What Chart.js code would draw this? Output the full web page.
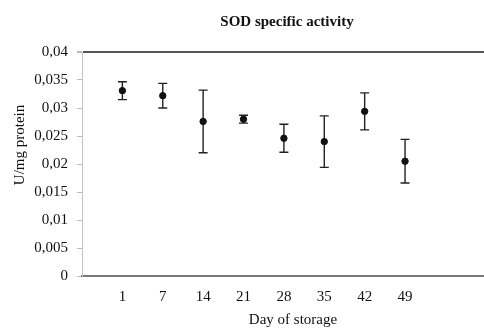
<!DOCTYPE html>
<html>
<head>
<meta charset="utf-8">
<script src="https://cdn.jsdelivr.net/npm/chart.js@4"></script>
<style>
    html, body { margin: 0; padding: 0; background: #fff; overflow: hidden; }
    #wrap { width: 490px; height: 328px; }
</style>
</head>
<body>
<div id="wrap"><canvas id="grafico-sod"></canvas></div>
<script>
// Datos
const dias = ['1', '7', '14', '21', '28', '35', '42', '49']; // Día de almacenamiento
const actividad = [0.0331, 0.0322, 0.0276, 0.0280, 0.0246, 0.0240, 0.0294, 0.0205]; // U/mg proteína
const errores = [0.0016, 0.0022, 0.0056, 0.0007, 0.0025, 0.0046, 0.0033, 0.0039]; // barras de error
const ticksY = [0, 0.005, 0.01, 0.015, 0.02, 0.025, 0.03, 0.035, 0.04];

const fuente = "'Liberation Serif', 'Times New Roman', serif";

// Formato con coma decimal
function conComa(v) {
    return parseFloat(v.toFixed(3)).toString().replace('.', ',');
}

// Dibuja las barras de error antes de los puntos
const barrasError = {
    id: 'barrasError',
    beforeDatasetsDraw(chart) {
        const ctx = chart.ctx;
        const x = chart.scales.x, y = chart.scales.y;
        ctx.save();
        ctx.strokeStyle = '#222';
        ctx.lineWidth = 1.4;
        actividad.forEach((v, i) => {
            const px = x.getPixelForValue(i + 1);
            const arriba = y.getPixelForValue(v + errores[i]);
            const abajo = y.getPixelForValue(v - errores[i]);
            ctx.beginPath();
            ctx.moveTo(px, arriba); ctx.lineTo(px, abajo);
            ctx.moveTo(px - 4.5, arriba); ctx.lineTo(px + 4.5, arriba);
            ctx.moveTo(px - 4.5, abajo); ctx.lineTo(px + 4.5, abajo);
            ctx.stroke();
        });
        ctx.restore();
    }
};

// Títulos del gráfico y de los ejes
const titulos = {
    id: 'titulos',
    afterDraw(chart) {
        const ctx = chart.ctx;
        ctx.save();
        ctx.fillStyle = '#111';
        ctx.textAlign = 'center';
        ctx.textBaseline = 'middle';
        ctx.font = 'bold 15px ' + fuente;
        ctx.fillText('SOD specific activity', 287, 22);
        ctx.font = '15px ' + fuente;
        ctx.fillText('Day of storage', 293, 320);
        ctx.translate(20, 145);
        ctx.rotate(-Math.PI / 2);
        ctx.fillText('U/mg protein', 0, 0);
        ctx.restore();
    }
};

new Chart(document.getElementById('grafico-sod').getContext('2d'), {
    type: 'scatter',
    data: {
        datasets: [{
            label: 'SOD',
            data: actividad.map((v, i) => ({ x: i + 1, y: v })),
            backgroundColor: '#111',
            borderColor: '#111',
            pointRadius: 3.2,
            pointHoverRadius: 3.2
        }]
    },
    options: {
        responsive: true,
        maintainAspectRatio: false,
        animation: false,
        layout: { padding: { top: 52, right: 3, left: 0, bottom: 0 } },
        plugins: {
            legend: { display: false },
            tooltip: { enabled: false }
        },
        scales: {
            x: {
                type: 'linear',
                min: 0,
                max: 10,
                afterBuildTicks: (eje) => { eje.ticks = dias.map((d, i) => ({ value: i + 1 })); },
                afterFit: (eje) => { eje.height = 52; },
                grid: { display: false, drawTicks: false },
                border: { display: true, color: '#777', width: 2 },
                ticks: {
                    padding: 12,
                    color: '#111',
                    font: { family: fuente, size: 15 },
                    callback: (v) => dias[v - 1] || ''
                }
            },
            y: {
                min: 0,
                max: 0.04,
                afterBuildTicks: (eje) => { eje.ticks = ticksY.map(v => ({ value: v })); },
                afterFit: (eje) => { eje.width = 82; },
                grid: {
                    drawOnChartArea: true,
                    color: (c) => Math.abs(c.tick.value - 0.04) < 1e-9 ? '#555' : 'rgba(0,0,0,0)',
                    lineWidth: (c) => Math.abs(c.tick.value - 0.04) < 1e-9 ? 2 : 1,
                    tickColor: '#bbb',
                    tickLength: 5
                },
                border: { display: true, color: '#c4c4c4', width: 1 },
                ticks: {
                    padding: 9,
                    color: '#111',
                    font: { family: fuente, size: 15 },
                    callback: (v) => conComa(v)
                }
            }
        }
    },
    plugins: [barrasError, titulos]
});
</script>
</body>
</html>
